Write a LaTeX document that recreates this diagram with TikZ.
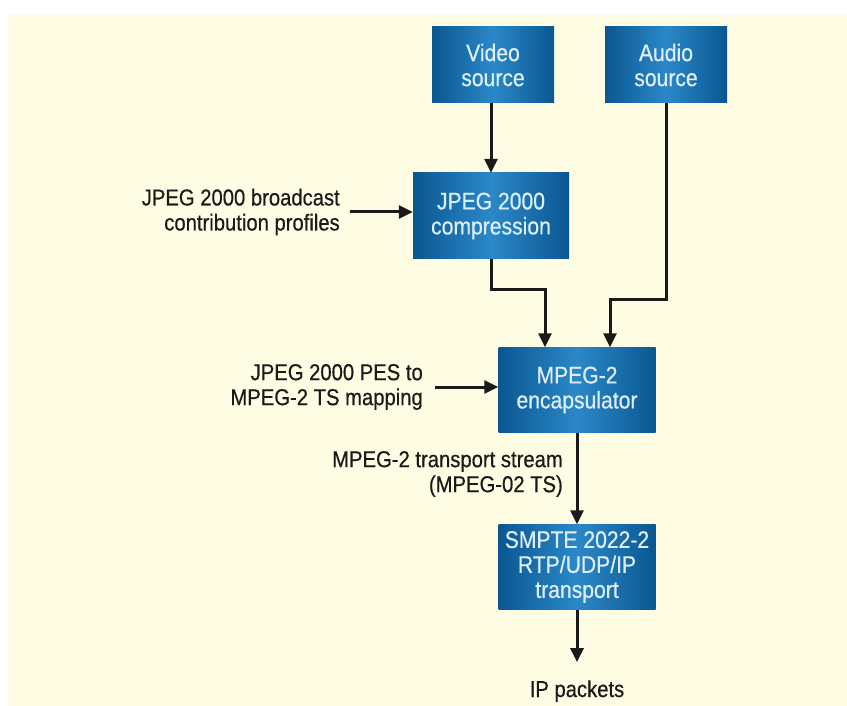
\documentclass[tikz,border=0pt]{standalone}
\usepackage{fontspec}
\setmainfont{Liberation Sans}[FakeStretch=0.88,FakeBold=0.5]
\usetikzlibrary{arrows.meta,calc}
\definecolor{paper}{HTML}{FEFCE2}
\definecolor{bdark}{HTML}{0A5791}
\definecolor{blight}{HTML}{2B88C8}
\definecolor{btext}{HTML}{DDEFFC}
\definecolor{ink}{HTML}{1A1A1A}
\tikzset{
  blockbox/.style={rectangle, inner sep=0pt, align=center,
    left color=bdark, right color=bdark, middle color=blight,
    text=btext, font=\fontsize{24}{25}\selectfont},
  lab/.style={inner sep=0pt, align=right, text=ink,
    font=\fontsize{23}{25}\selectfont},
  arr/.style={draw=ink, line width=3pt,
    -{Triangle[length=14pt,width=13pt]}}
}
\begin{document}
\begin{tikzpicture}[x=1pt,y=-1pt]
\useasboundingbox (0,0) rectangle (847,706);
\fill[white] (0,0) rectangle (847,706);
\fill[paper] (8,15) rectangle (847,706);

\node[blockbox, minimum width=122pt, minimum height=76pt] (video) at (493,65) {Video\\source};
\node[blockbox, minimum width=122pt, minimum height=76pt] (audio) at (666,65) {Audio\\source};
\node[blockbox, minimum width=156pt, minimum height=86pt] (comp) at (491,216) {JPEG 2000\\compression};
\node[blockbox, minimum width=157pt, minimum height=85pt] (mpeg) at (577,390) {MPEG-2\\encapsulator};
\node[blockbox, minimum width=157pt, minimum height=85pt] (smpte) at (577,567) {SMPTE 2022-2\\RTP/UDP/IP\\transport};

\node[lab, anchor=east] (prof) at (340,212) {JPEG 2000 broadcast\\contribution profiles};
\node[lab, anchor=east] (pes) at (423,387) {JPEG 2000 PES to\\MPEG-2 TS mapping};
\node[lab, anchor=east] (ts) at (563,474) {MPEG-2 transport stream\\(MPEG-02 TS)};
\node[inner sep=0pt, anchor=base, text=ink, font=\fontsize{23}{25}\selectfont] (ip) at (577,697) {IP packets};

\draw[arr] (video.south -| comp.north) -- (comp.north);
\draw[arr] (comp.south) -- ++(0,30) -| ([xshift=-32pt]mpeg.north);
\draw[arr] (audio.south) -- ++(0,196) -| ([xshift=33pt]mpeg.north);
\draw[arr] ([xshift=10pt]prof.east) -- (prof.east -| comp.west);
\draw[arr] ([xshift=12pt]pes.east) -- (pes.east -| mpeg.west);
\draw[arr] (mpeg.south) -- (smpte.north);
\draw[arr] (smpte.south) -- ([yshift=18pt]ip.north);
\end{tikzpicture}
\end{document}
